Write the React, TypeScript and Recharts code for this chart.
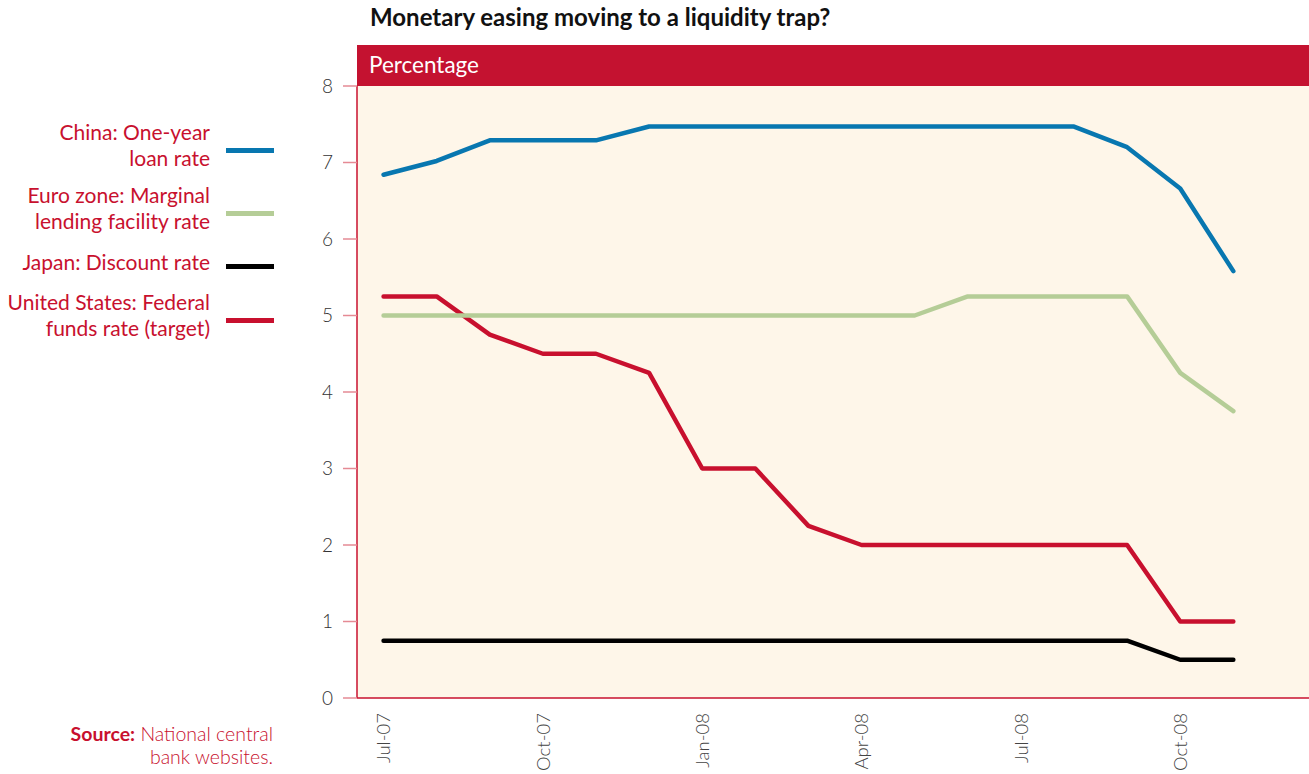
import { LineChart, Line, XAxis, YAxis } from "recharts";

const months = [
  "Jul-07", "Aug-07", "Sep-07", "Oct-07", "Nov-07", "Dec-07",
  "Jan-08", "Feb-08", "Mar-08", "Apr-08", "May-08", "Jun-08",
  "Jul-08", "Aug-08", "Sep-08", "Oct-08", "Nov-08",
];
const china = [6.84, 7.02, 7.29, 7.29, 7.29, 7.47, 7.47, 7.47, 7.47, 7.47, 7.47, 7.47, 7.47, 7.47, 7.2, 6.66, 5.58];
const euro = [5, 5, 5, 5, 5, 5, 5, 5, 5, 5, 5, 5.25, 5.25, 5.25, 5.25, 4.25, 3.75];
const japan = [0.75, 0.75, 0.75, 0.75, 0.75, 0.75, 0.75, 0.75, 0.75, 0.75, 0.75, 0.75, 0.75, 0.75, 0.75, 0.5, 0.5];
const us = [5.25, 5.25, 4.75, 4.5, 4.5, 4.25, 3, 3, 2.25, 2, 2, 2, 2, 2, 2, 1, 1];
const yTicks = [0, 1, 2, 3, 4, 5, 6, 7, 8];
const labelMonths = ["Jul-07", "Oct-07", "Jan-08", "Apr-08", "Jul-08", "Oct-08"];

const RED = "#c8102e";
const FONT = "Lato, 'Open Sans', sans-serif";

const series = [
  { key: "us", name: ["United States: Federal", "funds rate (target)"], color: RED, y: 320 },
  { key: "euro", name: ["Euro zone: Marginal", "lending facility rate"], color: "#b5cd97", y: 213 },
  { key: "china", name: ["China: One-year", "loan rate"], color: "#0877b0", y: 150 },
  { key: "japan", name: ["Japan: Discount rate"], color: "#000000", y: 266 },
];

// x = index + 0.5 so band edges fall on whole numbers
const data = months.map((m, i) => ({
  x: i + 0.5,
  month: m,
  china: china[i],
  euro: euro[i],
  japan: japan[i],
  us: us[i],
}));
const bandEdges = Array.from({ length: 19 }, (_, i) => i);
const labelTicks = months
  .map((m, i) => (labelMonths.includes(m) ? i + 0.5 : null))
  .filter((v) => v !== null) as number[];

function MonthTick({ x, y, payload }: any) {
  const name = months[Math.floor(payload.value)];
  return (
    <text
      x={x}
      y={y}
      transform={`rotate(-90, ${x}, ${y})`}
      textAnchor="end"
      dy="0.36em"
      fontSize={18.5}
      fontFamily={FONT}
      fill="#444"
      fontWeight={300}
    >
      {name}
    </text>
  );
}

export default function App() {
  return (
    <div style={{ position: "absolute", left: 0, top: 0, width: 1309, height: 774, overflow: "hidden", background: "#fff", fontFamily: FONT }}>
      <div style={{ position: "absolute", left: 370, top: 2, fontSize: 24, fontWeight: 700, color: "#111", whiteSpace: "nowrap" }}>
        Monetary easing moving to a liquidity trap?
      </div>
      <div style={{ position: "absolute", left: 357, top: 45, width: 960, height: 41, background: "#c41230", color: "#fff", fontSize: 22.5, lineHeight: "40px", paddingLeft: 12, boxSizing: "border-box" }}>
        Percentage
      </div>

      {series.map((s) => (
        <div key={s.key}>
          <div
            style={{
              position: "absolute", right: 1309 - 210, top: s.y - (s.name.length === 2 ? 31 : 17),
              textAlign: "right", color: RED, fontSize: 21, lineHeight: "26px", whiteSpace: "nowrap",
            }}
          >
            {s.name.map((l) => <div key={l}>{l}</div>)}
          </div>
          <div style={{ position: "absolute", left: 226, top: s.y - 2, width: 48, height: 5, background: s.color }} />
        </div>
      ))}

      <div style={{ position: "absolute", right: 1309 - 273, top: 722, textAlign: "right", color: RED, fontSize: 19.5, lineHeight: "23px", whiteSpace: "nowrap", fontWeight: 300 }}>
        <div><b style={{ fontWeight: 700 }}>Source:</b> National central</div>
        <div>bank websites.</div>
      </div>

      <div style={{ position: "absolute", left: 0, top: 0 }}>
        <LineChart width={1313} height={774} data={data} margin={{ top: 86, right: 0, bottom: 0, left: 300 }}>
          <rect x={357} y={86} width={960} height={612} fill="#fef6e9" />
          <XAxis
            xAxisId="edges"
            dataKey="x"
            type="number"
            domain={[0, 18]}
            ticks={bandEdges}
            tick={false}
            tickSize={12}
            height={12}
            axisLine={{ stroke: RED, strokeWidth: 1.5 }}
            tickLine={{ stroke: "#e58a94", strokeWidth: 1.5 }}
          />
          <XAxis
            xAxisId="labels"
            dataKey="x"
            type="number"
            domain={[0, 18]}
            ticks={labelTicks}
            tick={<MonthTick />}
            tickLine={false}
            axisLine={false}
            tickSize={0}
            tickMargin={3}
            height={64}
          />
          <YAxis
            domain={[0, 8]}
            ticks={yTicks}
            width={57}
            tickSize={14}
            tickMargin={10}
            axisLine={{ stroke: RED, strokeWidth: 1.5 }}
            tickLine={{ stroke: "#e58a94", strokeWidth: 1.5 }}
            tick={{ fontSize: 19, fill: "#333", fontFamily: FONT, fontWeight: 300 }}
          />
          {series.map((s) => (
            <Line
              key={s.key}
              xAxisId="edges"
              dataKey={s.key}
              stroke={s.color}
              strokeWidth={4.5}
              strokeLinecap="round"
              strokeLinejoin="round"
              dot={false}
              activeDot={false}
              type="linear"
              isAnimationActive={false}
            />
          ))}
        </LineChart>
      </div>
    </div>
  );
}
